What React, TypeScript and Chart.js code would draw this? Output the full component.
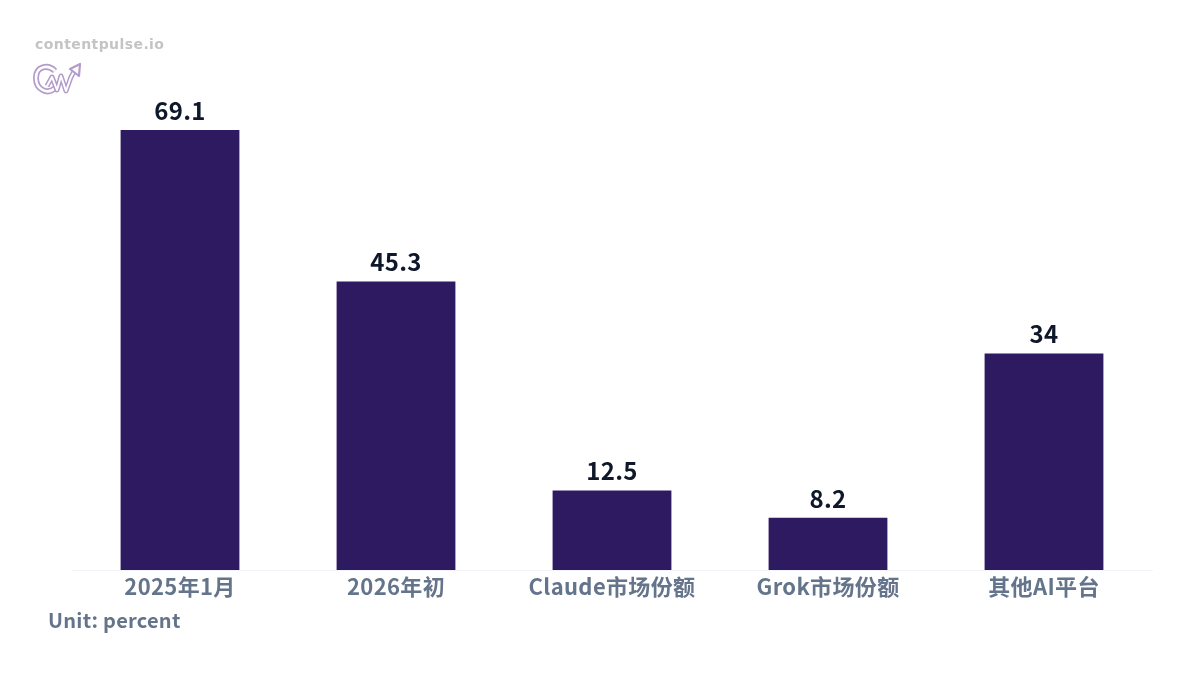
import React, { useEffect, useRef } from "react";
import { Chart, registerables } from "chart.js";

Chart.register(...registerables);

const categories = ["2025年1月", "2026年初", "Claude市场份额", "Grok市场份额", "其他AI平台"];
const values = [69.1, 45.3, 12.5, 8.2, 34];
const unitLabel = "Unit: percent";
const brand = "contentpulse.io";
const FONT = '"Noto Sans CJK SC", "Noto Sans", sans-serif';

const labelsPlugin = {
  id: "valueLabels",
  beforeDraw(chart: any) {
    chart.ctx.letterSpacing = "0.35px";
  },
  afterDatasetsDraw(chart: any) {
    const { ctx } = chart;
    const meta = chart.getDatasetMeta(0);
    ctx.save();
    ctx.fillStyle = "#0f172a";
    ctx.font = `600 24px ${FONT}`;
    ctx.letterSpacing = "0.25px";
    ctx.textAlign = "center";
    ctx.textBaseline = "alphabetic";
    meta.data.forEach((bar: any, i: number) => {
      ctx.fillText(String(values[i]), bar.x, bar.y - 10);
    });
    ctx.restore();
  },
};

const C_PATH = "M22 9 C15 2 3 4 3 16 C3 28 15 33 22 26";
const PULSE_PATH = "M14 24 L19 15 L24 28 L28 14 L33 29 L38 15 L42 8";

export default function App() {
  const ref = useRef<HTMLCanvasElement>(null);
  useEffect(() => {
    const chart = new Chart(ref.current!, {
      type: "bar",
      data: {
        labels: categories,
        datasets: [
          {
            data: values,
            backgroundColor: "#2e1a60",
            borderWidth: 0,
            categoryPercentage: 0.55,
            barPercentage: 1,
          },
        ],
      },
      plugins: [labelsPlugin],
      options: {
        animation: false,
        responsive: false,
        devicePixelRatio: 1,
        layout: { padding: { left: 72, right: 48, top: 0, bottom: 0 } },
        plugins: { legend: { display: false }, tooltip: { enabled: false } },
        scales: {
          x: {
            grid: { display: false, drawTicks: false },
            border: { display: true, color: "#f1f5f9", width: 1 },
            ticks: {
              color: "#64748b",
              font: { family: FONT, size: 22, weight: "600" },
              padding: 3,
              maxRotation: 0,
              autoSkip: false,
            },
            afterFit(scale: any) {
              scale.height = 105;
            },
          },
          y: { display: false, min: 0, max: 89.5 },
        },
      } as any,
    });
    return () => chart.destroy();
  }, []);

  return (
    <div style={{ position: "absolute", left: 0, top: 0, width: 1200, height: 675, background: "#fff", overflow: "hidden" }}>
      <canvas ref={ref} width={1200} height={675} style={{ position: "absolute", left: 0, top: 0 }} />
      <div style={{ position: "absolute", left: 35, top: 35, font: `bold 14px "DejaVu Sans", sans-serif`, letterSpacing: "0.42px", color: "#c4c4c4", lineHeight: "18px" }}>
        {brand}
      </div>
      <svg style={{ position: "absolute", left: 33, top: 62 }} width="50" height="34" viewBox="0 0 50 34" fill="none">
        <path d={C_PATH} stroke="#b39ccb" strokeWidth="6" />
        <path d={C_PATH} stroke="#fff" strokeWidth="2.6" />
        <path d={PULSE_PATH} stroke="#b39ccb" strokeWidth="5" strokeLinejoin="round" />
        <path d={PULSE_PATH} stroke="#fff" strokeWidth="2" strokeLinejoin="round" />
        <path d="M37 7 L47 2 L46 14 Z" fill="#fff" stroke="#b39ccb" strokeWidth="2.2" strokeLinejoin="round" />
      </svg>
      <div style={{ position: "absolute", left: 48, top: 606, font: `600 20px ${FONT}`, letterSpacing: "0.26px", color: "#64748b", lineHeight: "28px" }}>
        {unitLabel}
      </div>
    </div>
  );
}
